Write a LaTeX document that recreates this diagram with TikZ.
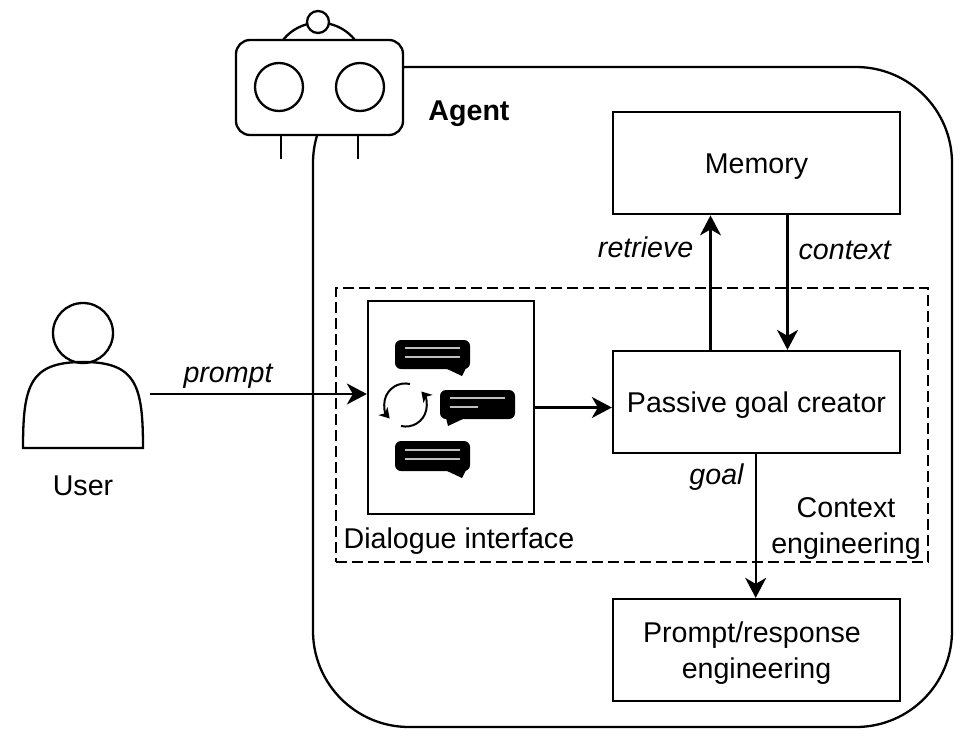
\documentclass[tikz,border=0pt]{standalone}
\usepackage{fontspec}
\setmainfont{Liberation Sans}
\usetikzlibrary{arrows.meta}

\begin{document}
\begin{tikzpicture}
[x=0.5pt,y=-0.5pt,line width=1.15pt,
>={Stealth[length=10pt,width=10.5pt,inset=3pt]},
main node/.style={draw, minimum width=143.5pt, minimum height=51pt, align=center, text depth=0pt, font=\fontsize{14.3}{18}\selectfont},
plain label/.style={font=\fontsize{14.3}{18}\selectfont, align=center, inner sep=0pt},
flow label/.style={font=\fontsize{14.3}{18}\selectfont\itshape, inner sep=0pt},
chat bubble/.style={fill=black, rounded corners=3pt},
chat line/.style={draw=black!25, line width=1pt}]

  \useasboundingbox (0,0) rectangle (980,744);

  \draw[rounded corners=48pt] (313,67) rectangle (952,727);
  \node[draw, dash pattern=on 5.5pt off 2.5pt, minimum width=296pt, minimum height=137pt] (context) at (632,425) {};

  \node[main node] (memory) at (756.5,163.25) {Memory};
  \node[main node] (passive) at (756.5,402) {Passive goal creator};
  \node[main node] (prompt) at (756.5,650) {Prompt/response\hspace*{4.5pt}\\engineering};
  \node[draw, minimum width=83pt, minimum height=106.5pt] (dialogue) at (451,407.5) {};

  \node[plain label] (agent) at (469,114) {\textbf{Agent}};
  \node[plain label] (dialoguetext) at (459,541) {Dialogue interface};
  \node[plain label] (contexttext) at (846,528) {Context\\engineering};

  % robot
  \draw (283,40) arc (218.5:321.5:46);
  \node[draw, circle, fill=white, minimum size=11pt, inner sep=0pt] (antenna) at (318,22) {};
  \draw[fill=white, rounded corners=7pt] (236,40) rectangle (403,135);
  \node[draw, circle, minimum size=24pt, inner sep=0pt] (lefteye) at (279,87) {};
  \node[draw, circle, minimum size=24pt, inner sep=0pt] (righteye) at (360,87) {};
  \draw (281,135) -- (281,159);
  \draw (358,135) -- (358,159);

  % user
  \node[draw, circle, minimum size=30pt, inner sep=0pt] (head) at (83,333) {};
  \draw (23,448) .. controls (23,385) and (30,362) .. (83,362)
    .. controls (136,362) and (143,385) .. (143,448) -- cycle;
  \node[plain label] (user) at (83,486) {User};
  \coordinate (userarm) at (150,394);

  % chat icons
  \fill[chat bubble] (395,340) rectangle (470,369);
  \fill (445,368) -- (462,376) -- (466,368) -- cycle;
  \draw[chat line] (405,347.5) -- (460,347.5) (405,357) -- (460,357);
  \fill[chat bubble] (440,390) rectangle (515,419);
  \fill (446,418) -- (448,426) -- (465,418) -- cycle;
  \draw[chat line] (450,398) -- (505,398) (450,407) -- (478,407);
  \fill[chat bubble] (395,441) rectangle (470,471);
  \fill (445,470) -- (462,478) -- (466,470) -- cycle;
  \draw[chat line] (405,449.5) -- (460,449.5) (405,459) -- (460,459);
  \draw[-{Stealth[length=5pt,width=6pt,inset=1.5pt]}, line width=1pt] (410,384) arc (-77:-222:21);
  \draw[-{Stealth[length=5pt,width=6pt,inset=1.5pt]}, line width=1pt] (401,426) arc (103:-42:21);

  \draw[->] (userarm) -- node[flow label, above=2pt, pos=0.36] (prompttext) {prompt} (userarm -| dialogue.west);
  \draw[->] (dialogue.east) -- (dialogue.east -| passive.west);
  \draw[->] ([xshift=-23pt]passive.north) -- node[flow label, left=8pt, yshift=-2pt, pos=0.79] (retrieve) {retrieve} ([xshift=-23pt]memory.south);
  \draw[->] ([xshift=15.5pt]memory.south) -- node[flow label, right=5pt, yshift=-0.5pt, pos=0.25] (contextlabel) {context} ([xshift=15.5pt]passive.north);
  \draw[->] ([xshift=-0.4pt]passive.south) -- node[flow label, left=5.5pt, pos=0.16] (goal) {goal} ([xshift=-0.4pt]prompt.north);
\end{tikzpicture}
\end{document}
